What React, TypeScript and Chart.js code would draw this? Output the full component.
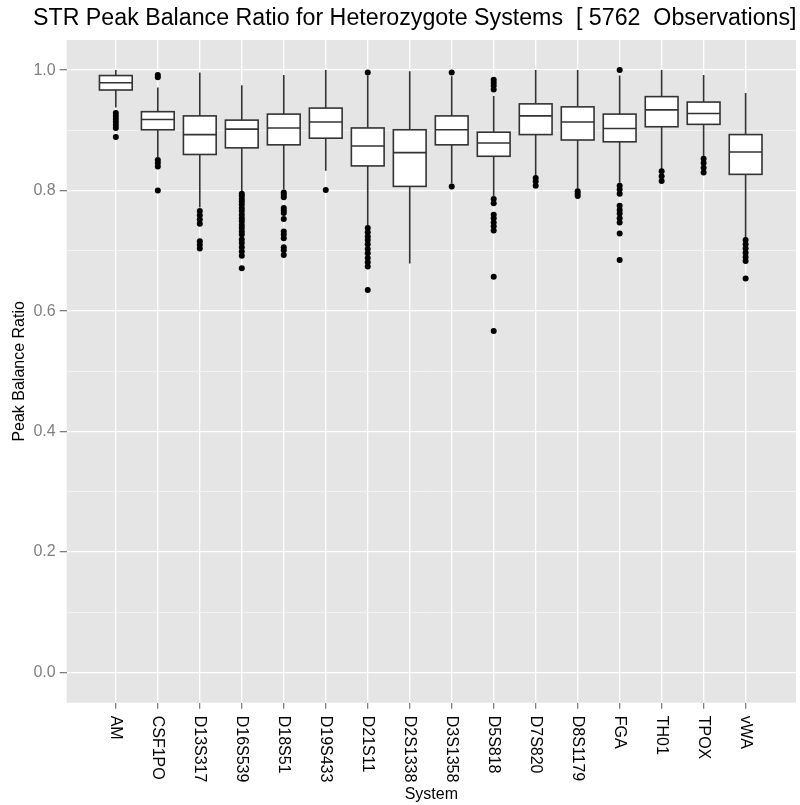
import { useEffect, useRef } from 'react';
import { Chart, registerables } from 'chart.js';

Chart.register(...registerables);

const titleText = 'STR Peak Balance Ratio for Heterozygote Systems  [ 5762  Observations]';

const systems = ['AM', 'CSF1PO', 'D13S317', 'D16S539', 'D18S51', 'D19S433', 'D21S11', 'D2S1338',
    'D3S1358', 'D5S818', 'D7S820', 'D8S1179', 'FGA', 'TH01', 'TPOX', 'vWA'];

const whiskerHigh = [1.0, 0.971, 0.996, 0.975, 0.992, 1.0, 0.991, 0.998, 0.99, 0.957, 1.0, 1.0, 0.991, 1.0, 0.992, 0.962];
const upperQuartile = [0.991, 0.931, 0.924, 0.917, 0.927, 0.937, 0.904, 0.901, 0.924, 0.897, 0.944, 0.939, 0.927, 0.956, 0.947, 0.893];
const medians = [0.979, 0.918, 0.893, 0.902, 0.904, 0.914, 0.874, 0.863, 0.901, 0.879, 0.924, 0.914, 0.903, 0.934, 0.928, 0.864];
const lowerQuartile = [0.967, 0.901, 0.86, 0.871, 0.876, 0.887, 0.841, 0.807, 0.876, 0.857, 0.893, 0.884, 0.881, 0.906, 0.91, 0.827];
const whiskerLow = [0.938, 0.856, 0.772, 0.799, 0.802, 0.833, 0.741, 0.679, 0.812, 0.791, 0.824, 0.803, 0.813, 0.835, 0.857, 0.721];

const outliers = [
    [0.929, 0.924, 0.919, 0.914, 0.909, 0.904, 0.889],
    [0.992, 0.988, 0.851, 0.846, 0.84, 0.8],
    [0.766, 0.759, 0.752, 0.745, 0.716, 0.71, 0.704],
    [0.795, 0.791, 0.786, 0.782, 0.777, 0.771, 0.766, 0.76, 0.754, 0.749, 0.743, 0.738, 0.732, 0.727, 0.719, 0.713, 0.706, 0.699, 0.692, 0.671],
    [0.797, 0.793, 0.789, 0.771, 0.767, 0.763, 0.753, 0.732, 0.727, 0.721, 0.706, 0.701, 0.693],
    [0.801],
    [0.996, 0.738, 0.731, 0.724, 0.718, 0.711, 0.703, 0.696, 0.688, 0.681, 0.674, 0.635],
    [],
    [0.996, 0.807],
    [0.984, 0.979, 0.974, 0.968, 0.786, 0.779, 0.76, 0.754, 0.747, 0.741, 0.734, 0.657, 0.567],
    [0.821, 0.815, 0.808],
    [0.799, 0.795, 0.791],
    [1.0, 0.808, 0.802, 0.795, 0.775, 0.768, 0.762, 0.754, 0.747, 0.729, 0.685],
    [0.832, 0.824, 0.816],
    [0.853, 0.846, 0.838, 0.83],
    [0.718, 0.711, 0.704, 0.697, 0.69, 0.683, 0.654],
];

const yMajorTicks = [0, 0.2, 0.4, 0.6, 0.8, 1.0];
const yMinorTicks = [0.1, 0.3, 0.5, 0.7, 0.9];

const FONT = '"Liberation Sans", Arial, sans-serif';
const BOX_WIDTH = 0.78;

const isMajor = (v: number) => yMajorTicks.some(t => Math.abs(t - v) < 1e-6);

const boxPlugin = {
    id: 'boxes',
    beforeDraw(chart: any) {
        const { ctx, chartArea } = chart;
        ctx.save();
        ctx.fillStyle = '#ffffff';
        ctx.fillRect(0, 0, chart.width, chart.height);
        ctx.fillStyle = '#E5E5E5';
        ctx.fillRect(chartArea.left, chartArea.top, chartArea.right - chartArea.left, chartArea.bottom - chartArea.top);
        ctx.restore();
    },
    beforeDatasetsDraw(chart: any) {
        const { ctx } = chart;
        const xs = chart.scales.x;
        const ys = chart.scales.y;
        ctx.save();
        ctx.strokeStyle = '#333333';
        ctx.lineWidth = 1.6;
        systems.forEach((_, i) => {
            const cx = xs.getPixelForValue(i);
            const x0 = xs.getPixelForValue(i - BOX_WIDTH / 2);
            const x1 = xs.getPixelForValue(i + BOX_WIDTH / 2);
            const yHi = ys.getPixelForValue(whiskerHigh[i]);
            const yQ3 = ys.getPixelForValue(upperQuartile[i]);
            const yMed = ys.getPixelForValue(medians[i]);
            const yQ1 = ys.getPixelForValue(lowerQuartile[i]);
            const yLo = ys.getPixelForValue(whiskerLow[i]);
            ctx.beginPath();
            ctx.moveTo(cx, yHi);
            ctx.lineTo(cx, yQ3);
            ctx.moveTo(cx, yQ1);
            ctx.lineTo(cx, yLo);
            ctx.stroke();
            ctx.fillStyle = '#ffffff';
            ctx.fillRect(x0, yQ3, x1 - x0, yQ1 - yQ3);
            ctx.strokeRect(x0, yQ3, x1 - x0, yQ1 - yQ3);
            ctx.beginPath();
            ctx.moveTo(x0, yMed);
            ctx.lineTo(x1, yMed);
            ctx.stroke();
        });
        ctx.restore();
    },
    afterDraw(chart: any) {
        const { ctx, chartArea } = chart;
        const xs = chart.scales.x;
        ctx.save();
        ctx.fillStyle = '#000000';
        // title, fitted to the width of the original
        ctx.font = `20px ${FONT}`;
        const w = ctx.measureText(titleText).width;
        const size = 20 * 764 / w;
        ctx.font = `${size}px ${FONT}`;
        ctx.textAlign = 'left';
        ctx.textBaseline = 'middle';
        ctx.fillText(titleText, 33, 19);

        // x tick labels, reading downwards
        ctx.font = `16px ${FONT}`;
        systems.forEach((s, i) => {
            const x = xs.getPixelForValue(i);
            ctx.save();
            ctx.translate(x, chartArea.bottom + 13);
            ctx.rotate(Math.PI / 2);
            ctx.textAlign = 'left';
            ctx.textBaseline = 'middle';
            ctx.fillText(s, 0, 0);
            ctx.restore();
        });

        // axis titles
        ctx.font = `16px ${FONT}`;
        ctx.textAlign = 'center';
        ctx.textBaseline = 'middle';
        ctx.fillText('System', (chartArea.left + chartArea.right) / 2, 795);
        ctx.save();
        ctx.translate(20, (chartArea.top + chartArea.bottom) / 2);
        ctx.rotate(-Math.PI / 2);
        ctx.fillText('Peak Balance Ratio', 0, 0);
        ctx.restore();
        ctx.restore();
    },
};

export default function App() {
    const chartRef = useRef<HTMLCanvasElement>(null);

    useEffect(() => {
        document.body.style.margin = '0';
        document.body.style.overflow = 'hidden';
        const ctx = chartRef.current?.getContext('2d');
        if (!ctx) return;
        const points = outliers.flatMap((vals, i) => vals.map(v => ({ x: i, y: v })));
        const myChart = new Chart(ctx, {
            type: 'scatter',
            data: {
                datasets: [
                    {
                        label: 'Outliers',
                        data: points,
                        backgroundColor: '#000000',
                        borderWidth: 0,
                        pointRadius: 3,
                    },
                ],
            },
            options: {
                responsive: false,
                animation: false,
                layout: { padding: { top: 40, left: 0, right: 0, bottom: 0 } },
                plugins: {
                    legend: { display: false },
                    tooltip: { enabled: false },
                    title: { display: false },
                },
                scales: {
                    x: {
                        type: 'linear',
                        min: -1.17,
                        max: 16.2,
                        afterBuildTicks: (scale: any) => {
                            scale.ticks = systems.map((_, i) => ({ value: i }));
                        },
                        afterFit: (scale: any) => {
                            scale.height = 102.3;
                        },
                        ticks: { display: false },
                        border: { display: false },
                        grid: {
                            color: '#ffffff',
                            lineWidth: 1.3,
                            drawTicks: true,
                            tickLength: 6,
                            tickColor: '#7F7F7F',
                            tickWidth: 1.3,
                        },
                    },
                    y: {
                        type: 'linear',
                        min: -0.05,
                        max: 1.05,
                        afterBuildTicks: (scale: any) => {
                            scale.ticks = [...yMajorTicks, ...yMinorTicks]
                                .sort((a, b) => a - b)
                                .map(v => ({ value: v }));
                        },
                        afterFit: (scale: any) => {
                            scale.width = 66.7;
                        },
                        border: { display: false },
                        ticks: {
                            color: '#7F7F7F',
                            font: { family: FONT, size: 16 },
                            padding: 4,
                            callback: (v: any) => (isMajor(Number(v)) ? Number(v).toFixed(1) : ''),
                        },
                        grid: {
                            color: (c: any) => (isMajor(c.tick?.value) ? '#ffffff' : '#F2F2F2'),
                            lineWidth: (c: any) => (isMajor(c.tick?.value) ? 1.3 : 1),
                            drawTicks: true,
                            tickLength: 7,
                            tickColor: (c: any) => (isMajor(c.tick?.value) ? '#7F7F7F' : 'rgba(0,0,0,0)'),
                            tickWidth: 1.3,
                        },
                    },
                },
            },
            plugins: [boxPlugin],
        });
        return () => {
            myChart.destroy();
        };
    }, []);

    return (
        <div>
            <canvas ref={chartRef} width="800" height="805" style={{ display: 'block' }}></canvas>
        </div>
    );
}
